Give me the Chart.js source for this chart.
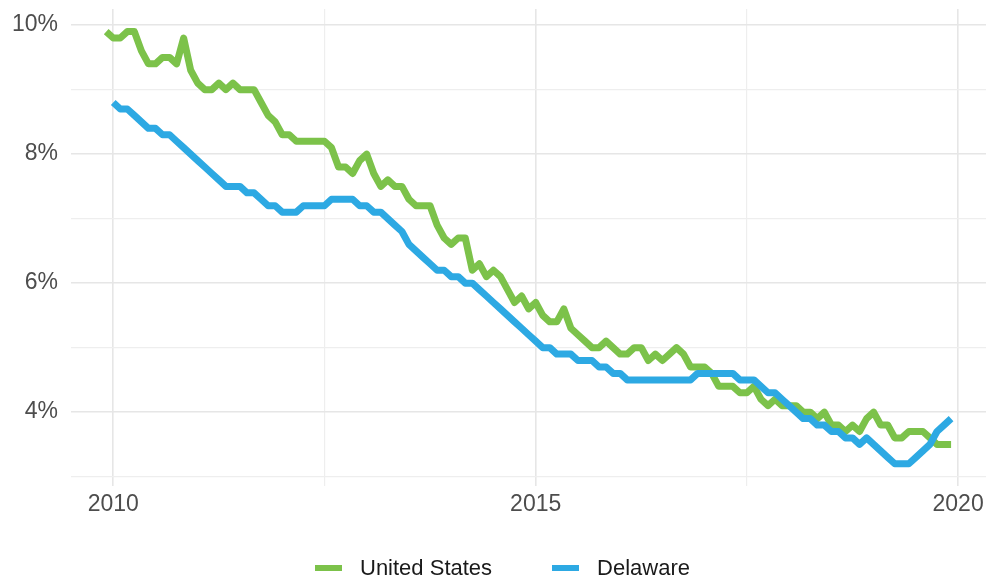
<!DOCTYPE html>
<html lang="en">
<head>
    <meta charset="UTF-8">
    <title>Unemployment rate: United States vs Delaware</title>
    <script src="https://cdn.jsdelivr.net/npm/chart.js"></script>
    <style>
        * {
            margin: 0;
            padding: 0;
            box-sizing: border-box;
        }

        body {
            background: #fff;
            font-family: "Liberation Sans", Arial, sans-serif;
        }

        .wrap {
            position: relative;
            width: 990px;
            height: 580px;
        }

        .legend {
            position: absolute;
            left: 315px;
            top: 555px;
            display: flex;
            align-items: center;
            font-size: 22px;
            color: #1a1a1a;
            line-height: 26px;
        }

        .legend .item {
            display: flex;
            align-items: center;
            margin-right: 60px;
        }

        .legend .swatch {
            width: 27px;
            height: 6px;
            margin-right: 18px;
        }
    </style>
</head>
<body>

<div class="wrap">
    <canvas id="chart" width="990" height="580"></canvas>
    <div class="legend" id="legend"></div>
</div>

<script>
    // monthly unemployment rate, %
    const seriesNames = ['United States', 'Delaware'];
    const seriesColors = ['#7CC24A', '#2DA9E3'];

    // Dec 2009 .. Dec 2019
    const usStart = [2009, 12];
    const usRate = [
        9.9,
        9.8, 9.8, 9.9, 9.9, 9.6, 9.4, 9.4, 9.5, 9.5, 9.4, 9.8, 9.3,
        9.1, 9.0, 9.0, 9.1, 9.0, 9.1, 9.0, 9.0, 9.0, 8.8, 8.6, 8.5,
        8.3, 8.3, 8.2, 8.2, 8.2, 8.2, 8.2, 8.1, 7.8, 7.8, 7.7, 7.9,
        8.0, 7.7, 7.5, 7.6, 7.5, 7.5, 7.3, 7.2, 7.2, 7.2, 6.9, 6.7,
        6.6, 6.7, 6.7, 6.2, 6.3, 6.1, 6.2, 6.1, 5.9, 5.7, 5.8, 5.6,
        5.7, 5.5, 5.4, 5.4, 5.6, 5.3, 5.2, 5.1, 5.0, 5.0, 5.1, 5.0,
        4.9, 4.9, 5.0, 5.0, 4.8, 4.9, 4.8, 4.9, 5.0, 4.9, 4.7, 4.7,
        4.7, 4.6, 4.4, 4.4, 4.4, 4.3, 4.3, 4.4, 4.2, 4.1, 4.2, 4.1,
        4.1, 4.1, 4.0, 4.0, 3.9, 4.0, 3.8, 3.8, 3.7, 3.8, 3.7, 3.9,
        4.0, 3.8, 3.8, 3.6, 3.6, 3.7, 3.7, 3.7, 3.6, 3.5, 3.5, 3.5
    ];

    // Jan 2010 .. Dec 2019
    const deStart = [2010, 1];
    const deRate = [
        8.8, 8.7, 8.7, 8.6, 8.5, 8.4, 8.4, 8.3, 8.3, 8.2, 8.1, 8.0,
        7.9, 7.8, 7.7, 7.6, 7.5, 7.5, 7.5, 7.4, 7.4, 7.3, 7.2, 7.2,
        7.1, 7.1, 7.1, 7.2, 7.2, 7.2, 7.2, 7.3, 7.3, 7.3, 7.3, 7.2,
        7.2, 7.1, 7.1, 7.0, 6.9, 6.8, 6.6, 6.5, 6.4, 6.3, 6.2, 6.2,
        6.1, 6.1, 6.0, 6.0, 5.9, 5.8, 5.7, 5.6, 5.5, 5.4, 5.3, 5.2,
        5.1, 5.0, 5.0, 4.9, 4.9, 4.9, 4.8, 4.8, 4.8, 4.7, 4.7, 4.6,
        4.6, 4.5, 4.5, 4.5, 4.5, 4.5, 4.5, 4.5, 4.5, 4.5, 4.5, 4.6,
        4.6, 4.6, 4.6, 4.6, 4.6, 4.5, 4.5, 4.5, 4.4, 4.3, 4.3, 4.2,
        4.1, 4.0, 3.9, 3.9, 3.8, 3.8, 3.7, 3.7, 3.6, 3.6, 3.5, 3.6,
        3.5, 3.4, 3.3, 3.2, 3.2, 3.2, 3.3, 3.4, 3.5, 3.7, 3.8, 3.9
    ];

    const yearTicks = [2010, 2012.5, 2015, 2017.5, 2020];
    const rateTicks = [3, 4, 5, 6, 7, 8, 9, 10];

    function toPoints(start, values) {
        return values.map((v, i) => ({
            x: start[0] + (start[1] - 1 + i) / 12,
            y: v
        }));
    }

    const isMajorYear = v => v % 5 === 0;
    const isMajorRate = v => v % 2 === 0;

    const font = { family: '"Liberation Sans", Arial, sans-serif', size: 23 };

    // drop the extra room chart.js keeps for edge tick labels
    function noEdgePad(s) {
        s.paddingTop = 0;
        s.paddingBottom = 0;
        s.paddingLeft = 0;
        s.paddingRight = 0;
    }

    const chart = new Chart(document.getElementById('chart'), {
        type: 'line',
        data: {
            datasets: [
                {
                    label: seriesNames[0],
                    data: toPoints(usStart, usRate),
                    borderColor: seriesColors[0],
                    backgroundColor: seriesColors[0],
                    order: 1
                },
                {
                    label: seriesNames[1],
                    data: toPoints(deStart, deRate),
                    borderColor: seriesColors[1],
                    backgroundColor: seriesColors[1],
                    order: 0
                }
            ]
        },
        options: {
            responsive: false,
            animation: false,
            devicePixelRatio: 1,
            layout: { padding: { top: 9, right: 4, bottom: 64, left: 0 } },
            elements: {
                line: { borderWidth: 7, tension: 0, borderCapStyle: 'butt', borderJoinStyle: 'round' },
                point: { radius: 0, hoverRadius: 0 }
            },
            plugins: {
                legend: { display: false },
                tooltip: { enabled: false }
            },
            scales: {
                x: {
                    type: 'linear',
                    min: 2009.5,
                    max: 2020.33,
                    afterBuildTicks: s => { s.ticks = yearTicks.map(v => ({ value: v })); },
                    afterFit: s => { s.height = 30; noEdgePad(s); },
                    border: { display: false },
                    grid: {
                        drawTicks: false,
                        color: c => isMajorYear(c.tick.value) ? '#E6E6E6' : '#EEEEEE',
                        lineWidth: c => isMajorYear(c.tick.value) ? 1.6 : 1.2
                    },
                    ticks: {
                        padding: 5,
                        color: '#4D4D4D',
                        font: font,
                        maxRotation: 0,
                        autoSkip: false,
                        callback: v => isMajorYear(v) ? String(v) : ''
                    }
                },
                y: {
                    min: 2.855,
                    max: 10.25,
                    afterBuildTicks: s => { s.ticks = rateTicks.map(v => ({ value: v })); },
                    afterFit: s => { s.width = 71; noEdgePad(s); },
                    border: { display: false },
                    grid: {
                        drawTicks: false,
                        color: c => isMajorRate(c.tick.value) ? '#E6E6E6' : '#EEEEEE',
                        lineWidth: c => isMajorRate(c.tick.value) ? 1.6 : 1.2
                    },
                    ticks: {
                        padding: 13,
                        color: '#4D4D4D',
                        font: font,
                        autoSkip: false,
                        callback: v => isMajorRate(v) ? v + '%' : ''
                    }
                }
            }
        }
    });

    // legend below the plot, built from the datasets
    const legend = document.getElementById('legend');
    chart.data.datasets.forEach(ds => {
        const item = document.createElement('div');
        item.className = 'item';
        const sw = document.createElement('span');
        sw.className = 'swatch';
        sw.style.background = ds.borderColor;
        const txt = document.createElement('span');
        txt.textContent = ds.label;
        item.appendChild(sw);
        item.appendChild(txt);
        legend.appendChild(item);
    });
</script>

</body>
</html>
